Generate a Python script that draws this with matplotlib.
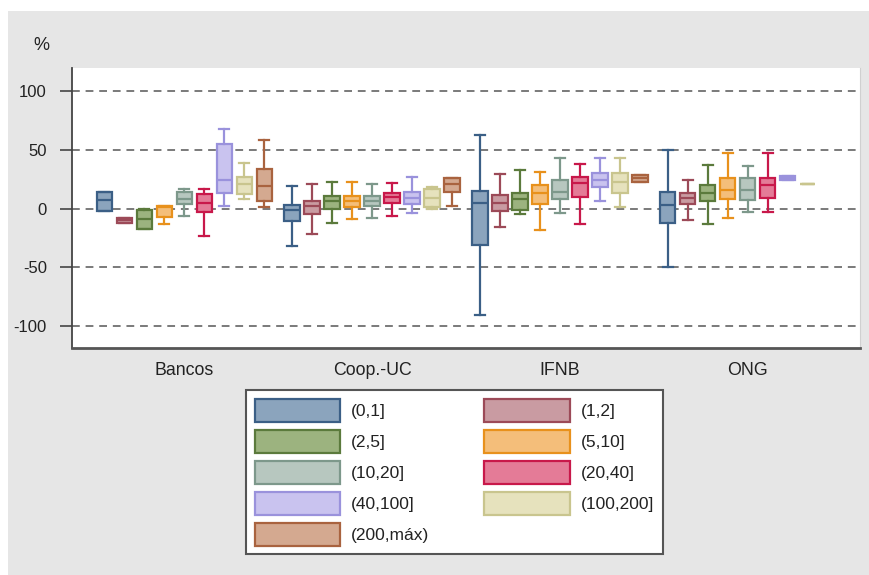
import numpy as np
import matplotlib
matplotlib.use("Agg")
import matplotlib.pyplot as plt
from matplotlib.patches import Patch, Rectangle

plt.rcParams['font.family'] = ['Liberation Sans', 'DejaVu Sans']

groups = ['Bancos', 'Coop.-UC', 'IFNB', 'ONG']
classes = ['(0,1]', '(1,2]', '(2,5]', '(5,10]', '(10,20]', '(20,40]',
           '(40,100]', '(100,200]', '(200,máx)']

# per group, one value per size class (None = no data)
q1 = [
    [-2, -12, -17, -7, 4, -3, 13, 12, 6],
    [-11, -5, 0, 1.5, 2, 5, 3.5, 1.5, 14],
    [-31, -2, -1, 4, 8, 10, 18, 13, 23],
    [-12, 4, 6, 8, 7, 9, 24, 21, None],
]
med = [
    [7, -10, -9, 1, 8, 5, 24, 21, 19],
    [-1, 2, 6, 6, 6, 9.5, 9, 9, 21],
    [5, 5, 8, 13.5, 14, 22, 24, 23, 26],
    [3, 9, 13, 16, 16, 20, 26, 21, None],
]
q3 = [
    [14, -8, -1, 2, 14, 12, 55, 27, 34],
    [3, 6, 11, 11, 11, 13.5, 14, 17, 26],
    [15, 11.5, 13, 20, 24, 26.5, 30, 30, 28.5],
    [14, 13, 20, 26, 26, 26, 28, 21, None],
]
w_lo = [
    [-2, -12, -17, -13, -6, -23, 2, 8, 1],
    [-32, -22, -12, -9, -8, -6, -4, 0, 2],
    [-91, -15.5, -5, -18, -4, -13, 6, 1, 23],
    [-50, -10, -13, -8, -3, -3, 24, 21, None],
]
w_hi = [
    [14, -8, 0, 2, 17, 17, 68, 39, 58],
    [19, 21, 23, 23, 21, 22, 27, 18, 26],
    [63, 29, 33, 31, 43, 38, 43, 43, 28.5],
    [50, 24, 37, 47, 36, 47, 28, 21, None],
]

edge_colors = ['#3b5f86', '#9c4a58', '#5b7a3c', '#e8911c', '#7d988b',
               '#c8184a', '#9a92dc', '#c9c58e', '#a9633f']
face_colors = ['#8ba4bd', '#c99ba2', '#9cb37f', '#f4be7a', '#b7c7bf',
               '#e47b97', '#c9c3ef', '#e6e2bd', '#d4a990']

fig = plt.figure(figsize=(8.7, 5.75), dpi=100, facecolor='white')
fig.patches.append(Rectangle((8 / 870, 0), 1, 564 / 575, transform=fig.transFigure,
                             facecolor='#e6e6e6', edgecolor='none', zorder=-10))

ax = fig.add_axes([72 / 870, 227 / 575, 788 / 870, 280 / 575])
ax.set_facecolor('white')

step = 0.1064
width = 0.08
for g in range(len(groups)):
    for k in range(len(classes)):
        if med[g][k] is None:
            continue
        stats = [dict(med=med[g][k], q1=q1[g][k], q3=q3[g][k],
                      whislo=w_lo[g][k], whishi=w_hi[g][k], fliers=[])]
        pos = g + (k - 4) * step
        ec = edge_colors[k]
        ax.bxp(stats, positions=[pos], widths=width, capwidths=width * 0.62,
               patch_artist=True, showfliers=False, manage_ticks=False,
               boxprops=dict(facecolor=face_colors[k], edgecolor=ec, linewidth=1.6),
               medianprops=dict(color=ec, linewidth=1.6),
               whiskerprops=dict(color=ec, linewidth=1.6),
               capprops=dict(color=ec, linewidth=1.6), zorder=3)

ax.set_xlim(-0.596, 3.596)
ax.set_ylim(-118.7, 119.6)
ax.set_yticks([-100, -50, 0, 50, 100])
ax.set_yticklabels(['-100', '-50', '0', '50', '100'])
ax.set_xticks(range(len(groups)))
ax.set_xticklabels(groups)
ax.yaxis.grid(True, linestyle=(0, (4, 3)), color='#7a7a7a', linewidth=1.4)
ax.set_axisbelow(True)
ax.tick_params(axis='y', direction='out', length=9, width=1.2, color='#444444',
               pad=9, labelsize=12, labelcolor='#222222')
ax.tick_params(axis='x', length=0, pad=10, labelsize=12.8, labelcolor='#222222')

ax.spines['top'].set_visible(False)
ax.spines['right'].set_color('#d0d0d0')
ax.spines['left'].set_color('#444444')
ax.spines['left'].set_linewidth(1.3)
ax.spines['bottom'].set_color('#555555')
ax.spines['bottom'].set_linewidth(2)

fig.text(41 / 870, 1 - 45 / 575, '%', fontsize=13, color='#222222',
         ha='center', va='center')

# legend reads row by row: reorder for matplotlib's column filling
order = [0, 2, 4, 6, 8, 1, 3, 5, 7]
handles = [Patch(facecolor=face_colors[k], edgecolor=edge_colors[k], linewidth=1.6)
           for k in order]
labels = [classes[k] for k in order]
leg = fig.legend(handles, labels, ncol=2, loc='upper left',
                 bbox_to_anchor=(246 / 870, 1 - 390 / 575), borderaxespad=0,
                 fontsize=12.5, handlelength=4.9, handleheight=1.66,
                 labelspacing=0.46, handletextpad=0.63, columnspacing=3.2,
                 borderpad=0.5, fancybox=False, framealpha=1)
leg.get_frame().set_edgecolor('#555555')
leg.get_frame().set_linewidth(1.5)
for t in leg.get_texts():
    t.set_color('#222222')

fig.savefig('out.png', dpi=100, facecolor=fig.get_facecolor())
